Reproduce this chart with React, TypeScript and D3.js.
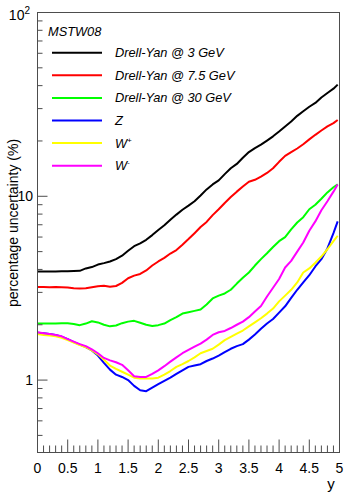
import React from "react";
import * as d3 from "d3";

const rapidity = [0,0.1,0.2,0.3,0.4,0.5,0.6,0.7,0.8,0.9,1.0,1.1,1.2,1.3,1.4,1.5,1.6,1.7,1.8,1.9,2.0,2.1,2.2,2.3,2.4,2.5,2.6,2.7,2.8,2.9,3.0,3.1,3.2,3.3,3.4,3.5,3.6,3.7,3.8,3.9,4.0,4.1,4.2,4.3,4.4,4.5,4.6,4.7,4.8,4.9,4.97];

const dy3 = [3.9,3.9,3.9,3.9,3.91,3.91,3.92,3.93,4.05,4.12,4.25,4.33,4.42,4.55,4.75,5.05,5.35,5.55,5.8,6.15,6.55,6.95,7.45,7.95,8.45,8.9,9.4,10.1,10.9,11.6,12.2,13.2,14.2,15.0,16.2,17.4,18.3,19.1,20.1,21.2,22.5,24.0,25.5,27.4,29.0,30.7,32.2,34.5,36.5,38.5,40.5];
const dy75 = [3.21,3.21,3.2,3.21,3.2,3.19,3.16,3.15,3.16,3.2,3.24,3.26,3.22,3.25,3.38,3.58,3.7,3.78,3.95,4.2,4.42,4.62,4.88,5.1,5.45,5.85,6.3,6.8,7.25,7.9,8.5,9.2,9.9,10.6,11.3,12.0,12.3,12.8,13.4,14.2,15.4,16.6,17.4,18.2,19.2,20.4,21.6,22.8,24.0,25.0,26.0];
const dy30 = [2.03,2.03,2.03,2.03,2.04,2.04,2.02,1.99,2.03,2.09,2.06,2.0,1.96,1.98,2.04,2.08,2.1,2.05,2.0,1.97,1.99,2.03,2.12,2.2,2.3,2.34,2.38,2.42,2.58,2.78,2.88,2.96,3.1,3.35,3.6,3.85,4.2,4.55,4.9,5.3,5.7,6.0,6.6,7.2,7.7,8.5,9.0,9.7,10.5,11.2,11.6];
const zBoson = [1.81,1.8,1.78,1.76,1.72,1.67,1.61,1.56,1.51,1.45,1.36,1.24,1.14,1.07,1.04,1.0,0.93,0.88,0.87,0.91,0.95,0.99,1.03,1.08,1.13,1.18,1.2,1.22,1.27,1.31,1.36,1.42,1.48,1.53,1.57,1.66,1.77,1.9,2.03,2.15,2.33,2.52,2.8,3.1,3.4,3.72,4.15,4.55,5.2,6.3,7.3];
const wPlus = [1.78,1.76,1.75,1.73,1.7,1.65,1.6,1.55,1.51,1.45,1.38,1.29,1.2,1.15,1.11,1.07,1.03,1.02,1.02,1.02,1.03,1.07,1.12,1.18,1.22,1.27,1.33,1.4,1.44,1.48,1.56,1.65,1.72,1.79,1.86,1.96,2.06,2.17,2.3,2.45,2.68,2.88,3.1,3.4,3.85,4.05,4.35,4.7,5.15,5.7,6.1];
const wMinus = [1.82,1.8,1.78,1.76,1.73,1.67,1.62,1.57,1.53,1.47,1.4,1.32,1.28,1.25,1.21,1.13,1.05,1.04,1.04,1.08,1.13,1.19,1.26,1.33,1.4,1.46,1.52,1.58,1.66,1.76,1.82,1.85,1.92,2.0,2.08,2.2,2.36,2.53,2.85,3.18,3.55,4.1,4.45,5.0,5.6,6.5,7.3,8.4,9.4,10.6,11.6];

const seriesNames = ["Drell-Yan @ 3 GeV", "Drell-Yan @ 7.5 GeV", "Drell-Yan @ 30 GeV", "Z", "W+", "W-"];
const seriesColors = ["#000000", "#ff0000", "#00ff00", "#0000ff", "#ffff00", "#ff00ff"];
const seriesValues = [dy3, dy75, dy30, zBoson, wPlus, wMinus];

const xTickLabels = ["0", "0.5", "1", "1.5", "2", "2.5", "3", "3.5", "4", "4.5", "5"];
const xMajor = [0, 0.5, 1, 1.5, 2, 2.5, 3, 3.5, 4, 4.5, 5];
const yMajor = [1, 10, 100];

const W = 345, H = 492;
const L = 37.5, R = 339.5, T = 12.5, B = 452.5;
const FONT = "'Liberation Sans', Arial, Helvetica, sans-serif";

export default function App() {
  const x = d3.scaleLinear().domain([0, 5]).range([L, R]);
  const y = d3.scaleLog().domain([0.4036, 100]).range([B, T]);
  const line = d3.line<number>().x((_, i) => x(rapidity[i])).y((d) => y(d));

  const minorX: number[] = [];
  for (let i = 0; i <= 50; i++) if (i % 5 !== 0) minorX.push(i / 10);
  const minorY: number[] = [];
  [0.1, 1, 10].forEach((dec) => {
    for (let k = 2; k <= 9; k++) {
      const v = k * dec;
      if (v >= 0.4036 && v <= 100) minorY.push(v);
    }
  });
  const axisColor = "#4d4d4d";

  return (
    <svg width={W} height={H} style={{ position: "absolute", left: 0, top: 0, background: "#fff" }} fontFamily={FONT}>
      <rect x={0} y={0} width={W} height={H} fill="#fff" />
      <g fill="none" strokeWidth={2} strokeLinejoin="round">
        {seriesValues.map((vals, i) => (
          <path key={i} d={line(vals) || ""} stroke={seriesColors[i]} />
        ))}
      </g>
      <rect x={L} y={T} width={R - L} height={B - T} fill="none" stroke={axisColor} strokeWidth={1} />
      <g stroke={axisColor} strokeWidth={1}>
        {xMajor.map((v) => (
          <line key={"xM" + v} x1={x(v)} x2={x(v)} y1={B} y2={B - 13} />
        ))}
        {minorX.map((v) => (
          <line key={"xm" + v} x1={x(v)} x2={x(v)} y1={B} y2={B - 7} />
        ))}
        {yMajor.map((v) => (
          <line key={"yM" + v} x1={L} x2={L + 10} y1={y(v)} y2={y(v)} />
        ))}
        {minorY.map((v) => (
          <line key={"ym" + v} x1={L} x2={L + 5} y1={y(v)} y2={y(v)} />
        ))}
      </g>
      <g fontSize={14} fill="#000" textAnchor="middle">
        {xMajor.map((v, i) => (
          <text key={"xl" + v} x={x(v)} y={473}>{xTickLabels[i]}</text>
        ))}
      </g>
      <g fontSize={14} fill="#000" textAnchor="end">
        <text x={33} y={y(1) + 5}>1</text>
        <text x={33} y={y(10) + 5}>10</text>
        <text x={30} y={y(100) + 7}>10<tspan fontSize={10} dy={-6}>2</tspan></text>
      </g>
      <text x={331} y={489} fontSize={15} textAnchor="middle" fill="#000">y</text>
      <text transform={`translate(18,223) rotate(-90)`} fontSize={14} textAnchor="middle" fill="#000">
        percentage uncertainty (%)
      </text>
      <g fontSize={12.8} fontStyle="italic" fill="#000">
        <text x={48} y={36}>MSTW08</text>
        {seriesNames.map((name, i) => {
          const ly = 52.7 + i * 22.6;
          let label: React.ReactNode = name;
          if (name === "W+") label = (<>W<tspan fontSize={8} dy={-5}>+</tspan></>);
          if (name === "W-") label = (<>W<tspan fontSize={8} dy={-5}>-</tspan></>);
          return (
            <g key={name}>
              <line x1={52} x2={102} y1={ly} y2={ly} stroke={seriesColors[i]} strokeWidth={2} />
              <text x={115} y={ly + 4.5}>{label}</text>
            </g>
          );
        })}
      </g>
    </svg>
  );
}
